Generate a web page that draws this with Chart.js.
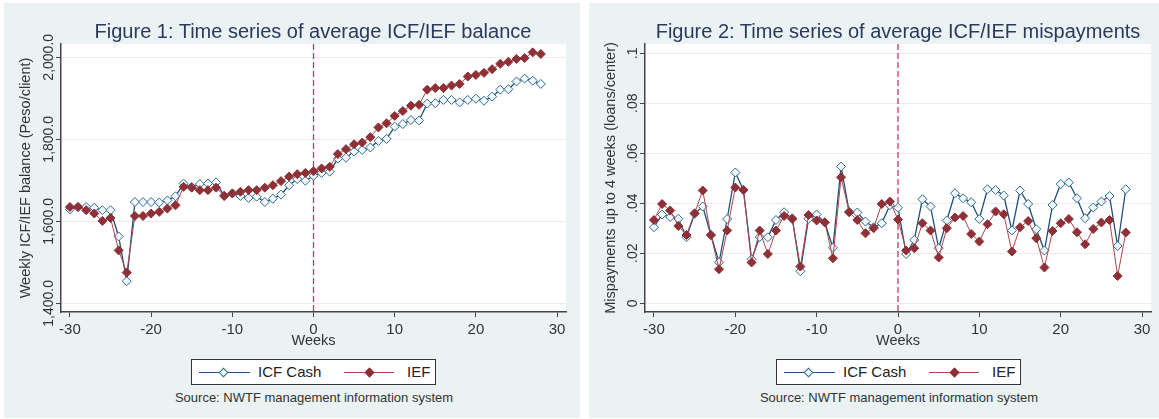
<!DOCTYPE html>
<html lang="en">
<head>
<meta charset="UTF-8">
<title>ICF/IEF time series</title>
<script src="https://cdn.jsdelivr.net/npm/chart.js"></script>
<style>
    body {
        margin: 0;
        background: #fff;
        font-family: 'Liberation Sans', Arial, sans-serif;
    }
    .panel {
        position: absolute;
        top: 3px;
        height: 415px;
        background: #eaf2f3;
    }
    #panel1 { left: 4px; width: 576px; }
    #panel2 { left: 589px; width: 570px; }
    .panel canvas { position: absolute; left: 0; top: 0; }
    .title {
        position: absolute;
        left: 309px;
        top: 17px;
        transform: translateX(-50%);
        white-space: nowrap;
        font-size: 20px;
        line-height: 22px;
        color: #2a3a5c;
    }
    .legend {
        position: absolute;
        left: 187px;
        top: 356px;
        width: 243px;
        height: 24px;
        background: #fff;
        border: 1px solid #333;
    }
    .legend .ln { position: absolute; top: 12px; height: 0; }
    .legend .mk {
        position: absolute;
        top: 9px;
        width: 5px;
        height: 5px;
        transform: rotate(45deg);
    }
    .legend .tx {
        position: absolute;
        top: 3px;
        font-size: 15px;
        line-height: 18px;
        color: #222;
        white-space: nowrap;
    }
    .source {
        position: absolute;
        left: 310px;
        top: 387px;
        transform: translateX(-50%);
        white-space: nowrap;
        font-size: 13px;
        line-height: 16px;
        color: #333;
    }
</style>
</head>
<body>
<div class="panel" id="panel1">
    <canvas id="chart1" width="576" height="347"></canvas>
    <div class="title">Figure 1: Time series of average ICF/IEF balance</div>
    <div class="legend">
        <div class="ln" style="left:7px;width:51px;border-top:1.3px solid #1f4f78"></div>
        <div class="mk" style="left:28px;background:#f2f8fb;border:1px solid #2f6b8f"></div>
        <div class="tx" style="left:66px">ICF Cash</div>
        <div class="ln" style="left:152px;width:50px;border-top:1px solid #b0454f"></div>
        <div class="mk" style="left:174px;background:#8f2f36;border:1px solid #8f2f36"></div>
        <div class="tx" style="left:215px">IEF</div>
    </div>
    <div class="source">Source: NWTF management information system</div>
</div>
<div class="panel" id="panel2">
    <canvas id="chart2" width="570" height="347"></canvas>
    <div class="title">Figure 2: Time series of average ICF/IEF mispayments</div>
    <div class="legend">
        <div class="ln" style="left:7px;width:51px;border-top:1.3px solid #1f4f78"></div>
        <div class="mk" style="left:28px;background:#f2f8fb;border:1px solid #2f6b8f"></div>
        <div class="tx" style="left:66px">ICF Cash</div>
        <div class="ln" style="left:152px;width:50px;border-top:1px solid #b0454f"></div>
        <div class="mk" style="left:174px;background:#8f2f36;border:1px solid #8f2f36"></div>
        <div class="tx" style="left:215px">IEF</div>
    </div>
    <div class="source">Source: NWTF management information system</div>
</div>

<script>
    // weeks relative to the switch
    const weeks = [-30, -29, -28, -27, -26, -25, -24, -23, -22, -21, -20, -19, -18, -17, -16, -15, -14, -13, -12, -11,
        -10, -9, -8, -7, -6, -5, -4, -3, -2, -1, 0, 1, 2, 3, 4, 5, 6, 7, 8, 9,
        10, 11, 12, 13, 14, 15, 16, 17, 18, 19, 20, 21, 22, 23, 24, 25, 26, 27, 28];

    // Figure 1: average balance (Peso/client)
    const balanceCash = [1629, 1635, 1635, 1633, 1627, 1627, 1563, 1454, 1647, 1647, 1647, 1646, 1651, 1661, 1692, 1684, 1691, 1692, 1695, 1662,
        1668, 1662, 1657, 1660, 1647, 1655, 1665, 1688, 1703, 1699, 1711, 1718, 1721, 1753, 1755, 1770, 1774, 1780, 1796, 1801,
        1831, 1837, 1847, 1846, 1887, 1888, 1896, 1896, 1890, 1896, 1899, 1894, 1904, 1921, 1922, 1941, 1948, 1943, 1935];
    const balanceIEF = [1635, 1635, 1627, 1619, 1601, 1608, 1529, 1475, 1613, 1613, 1619, 1623, 1631, 1639, 1684, 1682, 1676, 1676, 1682, 1662,
        1668, 1672, 1676, 1676, 1682, 1688, 1698, 1709, 1715, 1718, 1722, 1729, 1733, 1764, 1776, 1788, 1792, 1805, 1829, 1839,
        1857, 1869, 1882, 1884, 1921, 1925, 1925, 1931, 1935, 1953, 1957, 1962, 1971, 1984, 1989, 1996, 1998, 2012, 2008];

    // Figure 2: mispayments up to 4 weeks (loans/center)
    const mispayCash = [.0304, .0355, .0345, .0338, .0264, .0358, .0387, .0273, .0164, .0337, .0523, .0453, .0176, .0265, .0264, .0333, .0364, .034, .0128, .0338,
        .0355, .0323, .0222, .0547, .0366, .0363, .0327, .0304, .032, .0392, .0382, .0197, .0253, .0416, .0387, .022, .0331, .044, .042, .0404,
        .0337, .0456, .0453, .0431, .0291, .0451, .0397, .0296, .0211, .0393, .0477, .0483, .042, .034, .0383, .0407, .0429, .0229, .0456];
    const mispayIEF = [.0333, .0397, .0371, .0309, .0273, .036, .0451, .0273, .0136, .0291, .0463, .0453, .0163, .0291, .0197, .0291, .0349, .0337, .0147, .0353,
        .0331, .0324, .018, .0504, .0364, .0333, .028, .03, .0397, .0407, .0335, .0211, .022, .032, .0291, .0183, .03, .0343, .0349, .0277,
        .0247, .0316, .0367, .0356, .0207, .0304, .0329, .026, .0143, .0289, .032, .0337, .0284, .0236, .0297, .0323, .0333, .0109, .0283];

    const xTicks = [-30, -20, -10, 0, 10, 20, 30];
    const balanceTicks = [1400, 1600, 1800, 2000];
    const mispayTicks = [0, .02, .04, .06, .08, .1];

    const FONT = "'Liberation Sans', Arial, sans-serif";

    // white plot region + dashed line at week 0
    const plotDecor = {
        id: 'plotDecor',
        beforeDraw(chart) {
            const a = chart.chartArea, ctx = chart.ctx;
            ctx.save();
            ctx.fillStyle = '#fff';
            ctx.fillRect(a.left, a.top, a.right - a.left, a.bottom - a.top);
            ctx.restore();
        },
        beforeDatasetsDraw(chart) {
            const a = chart.chartArea, ctx = chart.ctx;
            const px = chart.scales.x.getPixelForValue(0);
            ctx.save();
            ctx.strokeStyle = '#c8385e';
            ctx.lineWidth = 1.3;
            ctx.setLineDash([6, 3]);
            ctx.beginPath();
            ctx.moveTo(px, a.top);
            ctx.lineTo(px, a.bottom);
            ctx.stroke();
            ctx.restore();
        }
    };

    // Stata style: y labels turned to read bottom to top
    const rotatedYTicks = {
        id: 'rotatedYTicks',
        afterDraw(chart) {
            const y = chart.scales.y, ctx = chart.ctx;
            ctx.save();
            ctx.font = '14px ' + FONT;
            ctx.fillStyle = '#333';
            ctx.textAlign = 'center';
            ctx.textBaseline = 'alphabetic';
            y.ticks.forEach(t => {
                ctx.save();
                ctx.translate(y.right - 8, y.getPixelForValue(t.value));
                ctx.rotate(-Math.PI / 2);
                ctx.fillText(t.label, 0, 0);
                ctx.restore();
            });
            ctx.restore();
        }
    };

    function makeChart(id, cash, ief, yMin, yMax, yTicks, yFormat, yTitle, yWidth, padRight) {
        new Chart(document.getElementById(id), {
            type: 'line',
            data: {
                datasets: [{
                    label: 'IEF',
                    data: weeks.map((w, i) => ({ x: w, y: ief[i] })),
                    borderColor: '#b0454f',
                    borderWidth: 1,
                    pointStyle: 'rectRot',
                    pointRadius: 4.5,
                    pointBorderWidth: 1,
                    pointBackgroundColor: '#8f2f36',
                    pointBorderColor: '#8f2f36',
                    tension: 0,
                    order: 0
                }, {
                    label: 'ICF Cash',
                    data: weeks.map((w, i) => ({ x: w, y: cash[i] })),
                    borderColor: '#1f4f78',
                    borderWidth: 1.3,
                    pointStyle: 'rectRot',
                    pointRadius: 4.5,
                    pointBorderWidth: 1,
                    pointBackgroundColor: '#f2f8fb',
                    pointBorderColor: '#2f6b8f',
                    tension: 0,
                    order: 1
                }]
            },
            options: {
                responsive: false,
                animation: false,
                events: [],
                layout: { padding: { top: 41, right: padRight, left: 0, bottom: 0 } },
                plugins: { legend: { display: false }, tooltip: { enabled: false } },
                scales: {
                    x: {
                        type: 'linear',
                        min: -31.1,
                        max: 31.1,
                        afterBuildTicks: s => { s.ticks = xTicks.map(v => ({ value: v })); },
                        afterFit: s => { s.height = 38; },
                        grid: { drawOnChartArea: false, tickLength: 5, tickColor: '#444' },
                        border: { display: true, color: '#444', width: 1.5 },
                        ticks: {
                            autoSkip: false, maxRotation: 0, padding: 4,
                            color: '#333', font: { family: FONT, size: 15 },
                            callback: v => String(v)
                        },
                        title: {
                            display: true, text: 'Weeks', color: '#333',
                            font: { family: FONT, size: 14.5 }, padding: { top: 0, bottom: 0 }
                        }
                    },
                    y: {
                        min: yMin,
                        max: yMax,
                        afterBuildTicks: s => { s.ticks = yTicks.map(v => ({ value: v })); },
                        afterFit: s => { s.width = yWidth; },
                        grid: { color: '#ebebeb', lineWidth: 1, tickLength: 5, tickColor: '#444' },
                        border: { display: true, color: '#444', width: 1.5 },
                        ticks: { display: false, callback: yFormat },
                        title: {
                            display: true, text: yTitle, color: '#333',
                            font: { family: FONT, size: 14.5 }, padding: { top: 13, bottom: 0 }
                        }
                    }
                }
            },
            plugins: [plotDecor, rotatedYTicks]
        });
    }

    makeChart('chart1', balanceCash, balanceIEF, 1378.8, 2032.4, balanceTicks,
        v => v.toLocaleString('en-US', { minimumFractionDigits: 1, maximumFractionDigits: 1 }),
        'Weekly ICF/IEF balance (Peso/client)', 57, 14);

    makeChart('chart2', mispayCash, mispayIEF, -0.0035, 0.1037, mispayTicks,
        v => v === 0 ? '0' : String(+v.toFixed(2)).replace(/^0\./, '.'),
        'Mispayments up to 4 weeks (loans/center)', 56, 8);
</script>
</body>
</html>
